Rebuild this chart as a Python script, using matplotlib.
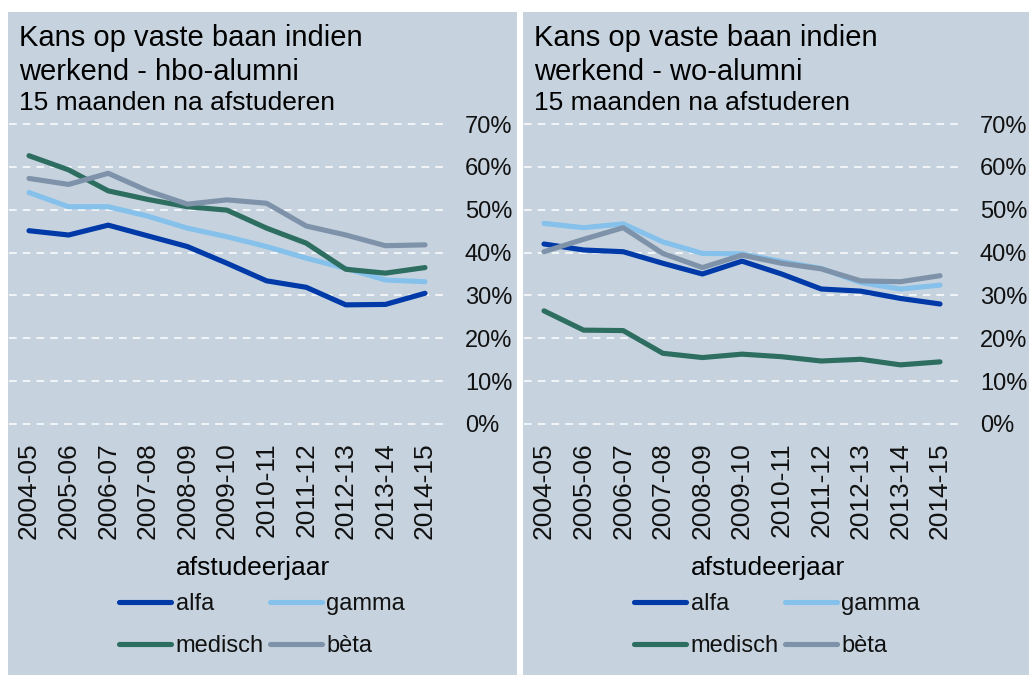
import matplotlib
matplotlib.use("Agg")
import matplotlib.pyplot as plt
from matplotlib.patches import Rectangle

plt.rcParams['font.family'] = ['Liberation Sans', 'DejaVu Sans']

years = ["2004-05", "2005-06", "2006-07", "2007-08", "2008-09", "2009-10",
         "2010-11", "2011-12", "2012-13", "2013-14", "2014-15"]
series_names = ["alfa", "gamma", "medisch", "bèta"]

hbo_alfa = [45.1, 44.1, 46.4, 43.9, 41.4, 37.5, 33.4, 31.9, 27.8, 27.9, 30.5]
hbo_gamma = [54.0, 50.7, 50.7, 48.5, 45.7, 43.7, 41.4, 38.7, 36.3, 33.6, 33.2]
hbo_medisch = [62.6, 59.3, 54.4, 52.4, 50.7, 49.9, 45.7, 42.2, 36.1, 35.2, 36.5]
hbo_beta = [57.3, 55.9, 58.5, 54.4, 51.3, 52.3, 51.5, 46.2, 44.1, 41.6, 41.8]

wo_alfa = [42.0, 40.6, 40.2, 37.5, 35.0, 38.0, 35.0, 31.5, 31.0, 29.3, 28.0]
wo_gamma = [46.8, 45.8, 46.7, 42.5, 39.8, 39.7, 37.9, 36.3, 33.0, 31.5, 32.4]
wo_medisch = [26.4, 21.9, 21.8, 16.5, 15.5, 16.3, 15.7, 14.7, 15.1, 13.8, 14.5]
wo_beta = [40.2, 43.1, 45.8, 39.8, 36.5, 39.4, 37.5, 36.2, 33.4, 33.2, 34.6]

yticks = [0, 10, 20, 30, 40, 50, 60, 70]
ytick_labels = [f"{v}%" for v in yticks]

titles = [("Kans op vaste baan indien", "werkend - hbo-alumni"),
          ("Kans op vaste baan indien", "werkend - wo-alumni")]
subtitle = "15 maanden na afstuderen"
xlabel = "afstudeerjaar"

colors = {"alfa": "#0039A8", "gamma": "#85C1EA", "medisch": "#2D6E61", "bèta": "#7E93A9"}
bg = "#C6D3DF"

W, H = 1029, 675
fig = plt.figure(figsize=(W / 100, H / 100), dpi=100)
fig.patch.set_facecolor("white")

def fx(px):
    return px / W

def fy(py):
    return 1 - py / H

# panel backgrounds
for (x0, x1) in [(8, 517), (523, 1029)]:
    fig.patches.append(Rectangle((fx(x0), 0), fx(x1 - x0), fy(12), transform=fig.transFigure,
                                 facecolor=bg, edgecolor="none", zorder=-10))

panels = [
    (0, [hbo_alfa, hbo_gamma, hbo_medisch, hbo_beta], titles[0]),
    (515, [wo_alfa, wo_gamma, wo_medisch, wo_beta], titles[1]),
]

ppu = 300 / 70.0  # pixels per percent
for off, data, (t1, t2) in panels:
    left = 9.2 + off
    right = 444.8 + off
    top = 124 - ppu * 1
    bottom = 424 + ppu * 1
    ax = fig.add_axes([fx(left), fy(bottom), fx(right - left), (bottom - top) / H])
    ax.set_facecolor("none")
    x = list(range(len(years)))
    lines = {}
    for name, vals in zip(series_names, data):
        ln, = ax.plot(x, vals, color=colors[name], lw=3.7, solid_capstyle="round",
                      solid_joinstyle="round", label=name, zorder=3)
        lines[name] = ln
    ax.set_xlim(-0.5, len(years) - 0.5)
    ax.set_ylim(-1, 71)
    ax.set_yticks(yticks)
    ax.set_yticklabels(ytick_labels)
    ax.yaxis.tick_right()
    ax.set_xticks(x)
    ax.set_xticklabels(years, rotation=90)
    ax.tick_params(axis="y", length=0, pad=14.5, labelsize=17, labelcolor="#111111")
    ax.tick_params(axis="x", length=0, pad=10, labelsize=19, labelcolor="#111111")
    for lab in ax.get_xticklabels():
        lab.set_va("top")
    for v in yticks:
        ax.axhline(v, color="white", lw=1.1, dashes=(5, 4), zorder=1)
    for s in ax.spines.values():
        s.set_visible(False)

    fig.text(fx(19 + off), fy(46), t1, fontsize=21, va="baseline", ha="left")
    fig.text(fx(19 + off), fy(80), t2, fontsize=21, va="baseline", ha="left")
    fig.text(fx(19 + off), fy(110), subtitle, fontsize=19, va="baseline", ha="left")
    fig.text(fx(253 + off), fy(568), xlabel, fontsize=19, va="center", ha="center")

    handles = [lines["alfa"], lines["medisch"], lines["gamma"], lines["bèta"]]
    leg = ax.legend(handles=handles, labels=[h.get_label() for h in handles], ncol=2,
                    loc="center", bbox_to_anchor=(fx(262 + off), fy(625)),
                    bbox_transform=fig.transFigure, frameon=False, fontsize=17,
                    handlelength=2.2, handletextpad=0.2, columnspacing=0.25,
                    labelspacing=0.85, borderpad=0)
    for t in leg.get_texts():
        t.set_color("#111111")

fig.savefig("out.png", dpi=100, facecolor="white")
